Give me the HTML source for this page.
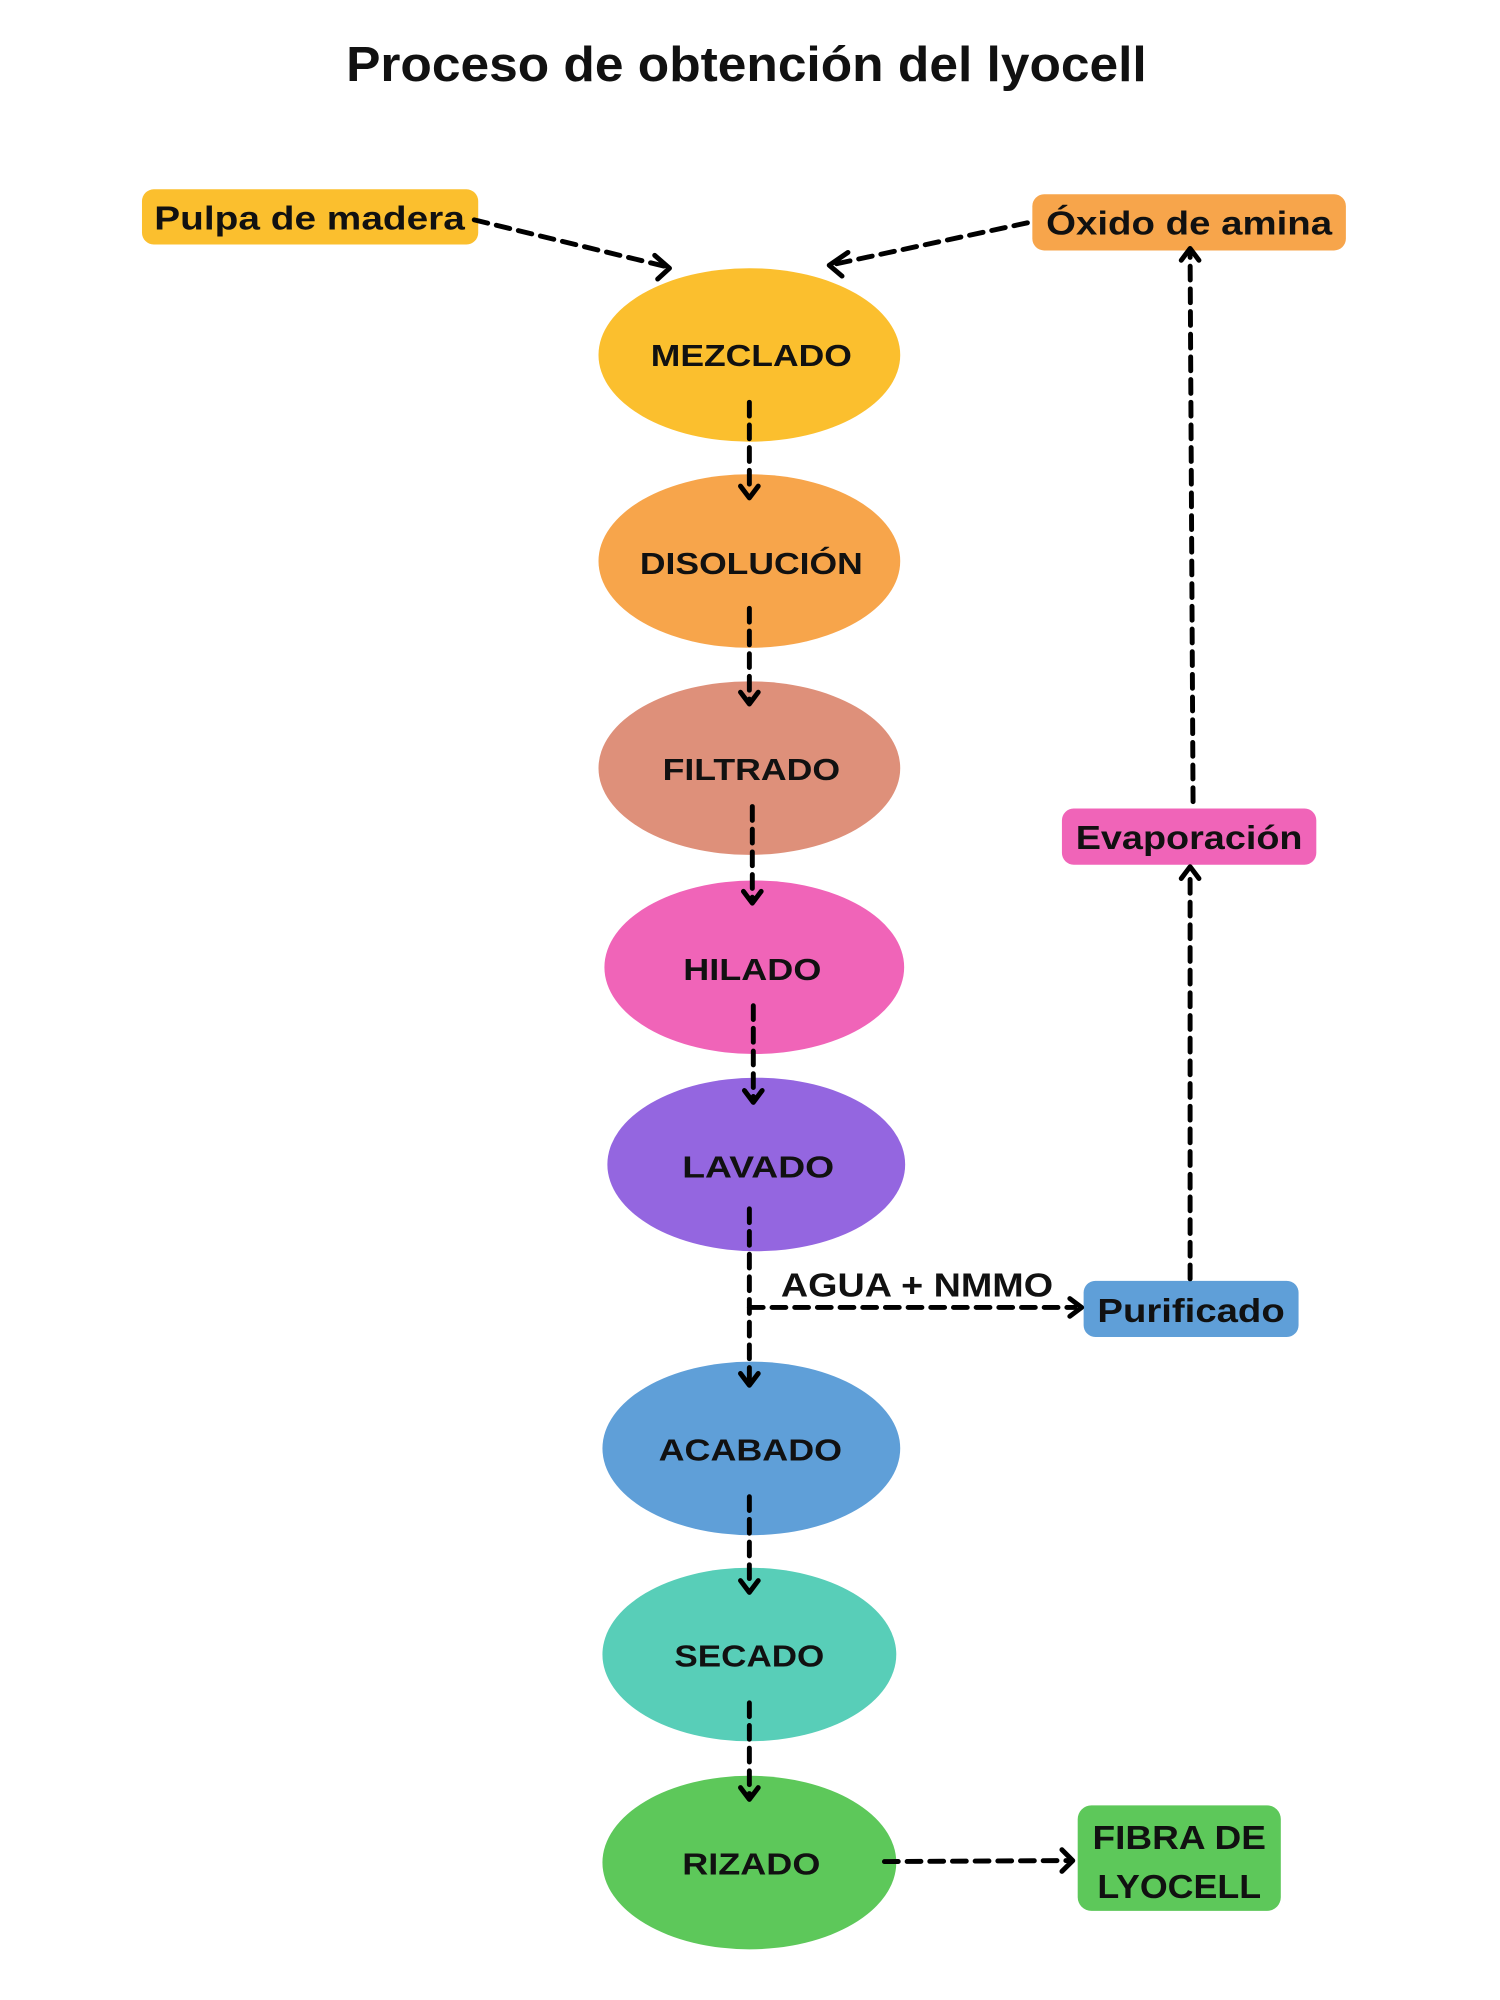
<!DOCTYPE html>
<html><head><meta charset="utf-8"><style>
html,body{margin:0;padding:0;background:#fff;}
svg{display:block;}
text{font-family:"Liberation Sans",sans-serif;font-weight:bold;fill:#111;}
</style></head><body>
<svg width="1500" height="2000" viewBox="0 0 1500 2000" xmlns="http://www.w3.org/2000/svg">
<g transform="scale(0.986)">
<text x="757" y="82" font-size="50" text-anchor="middle" textLength="812" lengthAdjust="spacingAndGlyphs">Proceso de obtención del lyocell</text>

<rect x="144" y="192" width="341" height="56" rx="12" fill="#FBBF2E"/>
<text x="314" y="233" font-size="34" text-anchor="middle" textLength="315" lengthAdjust="spacingAndGlyphs">Pulpa de madera</text>
<rect x="1047" y="197" width="318" height="57" rx="12" fill="#F7A54B"/>
<text x="1206" y="238" font-size="34" text-anchor="middle" textLength="290" lengthAdjust="spacingAndGlyphs">Óxido de amina</text>
<rect x="1077" y="820" width="258" height="57" rx="12" fill="#F064B8"/>
<text x="1206" y="861" font-size="34" text-anchor="middle" textLength="230" lengthAdjust="spacingAndGlyphs">Evaporación</text>
<rect x="1099" y="1299" width="218" height="57" rx="12" fill="#5F9FD8"/>
<text x="1208" y="1341" font-size="34" text-anchor="middle" textLength="190" lengthAdjust="spacingAndGlyphs">Purificado</text>
<rect x="1093" y="1831" width="206" height="107" rx="14" fill="#5DC85A"/>
<text x="1196" y="1875" font-size="34" text-anchor="middle" textLength="176" lengthAdjust="spacingAndGlyphs">FIBRA DE</text>
<text x="1196" y="1925" font-size="34" text-anchor="middle" textLength="166" lengthAdjust="spacingAndGlyphs">LYOCELL</text>

<g>
<ellipse cx="760" cy="360" rx="153" ry="88" fill="#FBBF2E"/>
<ellipse cx="760" cy="569" rx="153" ry="88" fill="#F7A54B"/>
<ellipse cx="760" cy="779" rx="153" ry="88" fill="#DE907A"/>
<ellipse cx="765" cy="981" rx="152" ry="88" fill="#F064B8"/>
<ellipse cx="767" cy="1181" rx="151" ry="88" fill="#9466E0"/>
<ellipse cx="762" cy="1469" rx="151" ry="88" fill="#5F9FD8"/>
<ellipse cx="760" cy="1678" rx="149" ry="88" fill="#58CEB8"/>
<ellipse cx="760" cy="1889" rx="149" ry="88" fill="#5DC85A"/>
</g>
<g font-size="31" text-anchor="middle">
<text x="762" y="371" textLength="204" lengthAdjust="spacingAndGlyphs">MEZCLADO</text>
<text x="762" y="582" textLength="226" lengthAdjust="spacingAndGlyphs">DISOLUCIÓN</text>
<text x="762" y="791" textLength="180" lengthAdjust="spacingAndGlyphs">FILTRADO</text>
<text x="763" y="994" textLength="140" lengthAdjust="spacingAndGlyphs">HILADO</text>
<text x="769" y="1194" textLength="154" lengthAdjust="spacingAndGlyphs">LAVADO</text>
<text x="761" y="1481" textLength="186" lengthAdjust="spacingAndGlyphs">ACABADO</text>
<text x="760" y="1690" textLength="152" lengthAdjust="spacingAndGlyphs">SECADO</text>
<text x="762" y="1901" textLength="140" lengthAdjust="spacingAndGlyphs">RIZADO</text>
</g>
<text x="930" y="1315" font-size="34" text-anchor="middle" textLength="276" lengthAdjust="spacingAndGlyphs">AGUA + NMMO</text>

<g stroke="#000" stroke-width="5" fill="none" stroke-dasharray="14,9" stroke-linecap="round">
<line x1="481" y1="223" x2="674" y2="270"/>
<line x1="1042" y1="226" x2="846" y2="268"/>
<line x1="760" y1="408" x2="760" y2="500"/>
<line x1="760" y1="617" x2="760" y2="710"/>
<line x1="763" y1="818" x2="763" y2="912"/>
<line x1="764" y1="1020" x2="764" y2="1114"/>
<line x1="760" y1="1226" x2="760" y2="1400"/>
<line x1="760" y1="1326" x2="1090" y2="1326"/>
<line x1="1207" y1="1297" x2="1207" y2="884"/>
<line x1="1210" y1="813" x2="1207" y2="258"/>
<line x1="760" y1="1518" x2="760" y2="1610"/>
<line x1="760" y1="1727" x2="760" y2="1820"/>
<line x1="897" y1="1888" x2="1082" y2="1887"/>
</g>
<g stroke="#000" stroke-width="5" fill="none" stroke-linecap="round" stroke-linejoin="round">
<polyline points="664,259 679,272 667,283"/>
<polyline points="860,256 841,269 854,280"/>
<polyline points="751,493 760,505 769,493"/>
<polyline points="751,702 760,714 769,702"/>
<polyline points="754,904 763,916 772,904"/>
<polyline points="755,1106 764,1118 773,1106"/>
<polyline points="751,1393 760,1405 769,1393"/>
<polyline points="1085,1317 1097,1326 1085,1335"/>
<polyline points="1198,891 1207,879 1216,891"/>
<polyline points="1198,264 1207,252 1216,264"/>
<polyline points="751,1603 760,1615 769,1603"/>
<polyline points="751,1813 760,1825 769,1813"/>
<polyline points="1077,1876 1088,1887 1077,1898"/>
</g>
</g>
</svg>
</body></html>
